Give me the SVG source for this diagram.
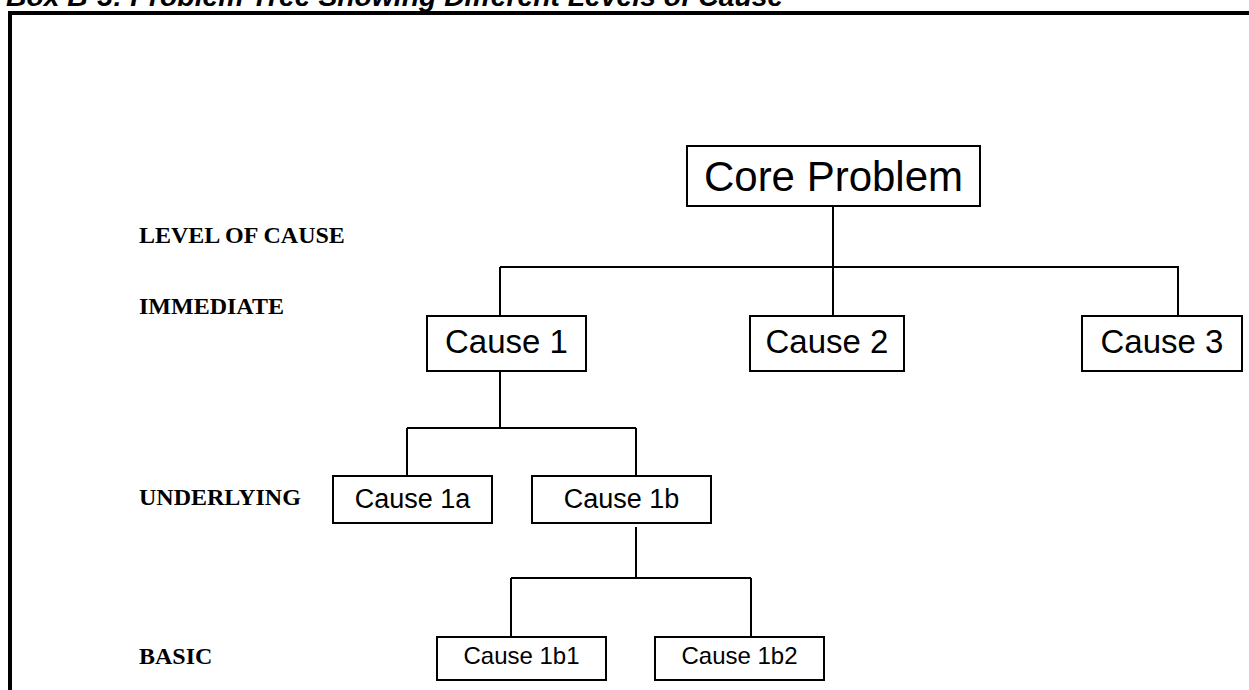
<svg xmlns="http://www.w3.org/2000/svg" width="1249" height="690" viewBox="0 0 1249 690">
<style>
.box{fill:#fff;stroke:#000;stroke-width:2}
.lbl{font-family:"Liberation Sans",Arial,sans-serif;fill:#000;text-anchor:middle}
.lev{font-family:"Liberation Serif","Times New Roman",serif;font-weight:bold;font-size:24px;fill:#000}
.con line{stroke:#000;stroke-width:2}
</style>
<rect width="1249" height="690" fill="#fff"/>
<text x="6" y="6" font-family="Liberation Sans,Arial,sans-serif" font-weight="bold" font-style="italic" font-size="28.3" fill="#000">Box B-3: Problem Tree Showing Different Levels of Cause</text>
<rect x="10" y="13" width="1300" height="800" fill="none" stroke="#000" stroke-width="4"/>
<g id="levels">
<text class="lev" x="139" y="243">LEVEL OF CAUSE</text>
<text class="lev" x="139" y="314">IMMEDIATE</text>
<text class="lev" x="139" y="505">UNDERLYING</text>
<text class="lev" x="139" y="664">BASIC</text>
</g>
<g id="connectors" class="con">
<line x1="833" y1="206" x2="833" y2="267"/>
<line x1="500" y1="267" x2="1179" y2="267"/>
<line x1="500" y1="267" x2="500" y2="316"/>
<line x1="833" y1="267" x2="833" y2="316"/>
<line x1="1178" y1="267" x2="1178" y2="316"/>
<line x1="500" y1="370" x2="500" y2="428"/>
<line x1="407" y1="428" x2="636" y2="428"/>
<line x1="407" y1="428" x2="407" y2="476"/>
<line x1="636" y1="428" x2="636" y2="476"/>
<line x1="636" y1="527" x2="636" y2="578"/>
<line x1="511" y1="578" x2="751" y2="578"/>
<line x1="511" y1="578" x2="511" y2="637"/>
<line x1="751" y1="578" x2="751" y2="637"/>
</g>
<g id="core"><rect class="box" x="687" y="146" width="293" height="60"/><text class="lbl" x="833.5" y="191" font-size="42">Core Problem</text></g>
<g id="cause1"><rect class="box" x="427" y="316" width="159" height="55"/><text class="lbl" x="506.5" y="353" font-size="33">Cause 1</text></g>
<g id="cause2"><rect class="box" x="750" y="316" width="154" height="55"/><text class="lbl" x="827" y="353" font-size="33">Cause 2</text></g>
<g id="cause3"><rect class="box" x="1082" y="316" width="160" height="55"/><text class="lbl" x="1162" y="353" font-size="33">Cause 3</text></g>
<g id="cause1a"><rect class="box" x="333" y="476" width="159" height="47"/><text class="lbl" x="412.5" y="508" font-size="27">Cause 1a</text></g>
<g id="cause1b"><rect class="box" x="532" y="476" width="179" height="47"/><text class="lbl" x="621.5" y="508" font-size="27">Cause 1b</text></g>
<g id="cause1b1"><rect class="box" x="437" y="637" width="169" height="43"/><text class="lbl" x="521.5" y="664" font-size="24">Cause 1b1</text></g>
<g id="cause1b2"><rect class="box" x="655" y="637" width="169" height="43"/><text class="lbl" x="739.5" y="664" font-size="24">Cause 1b2</text></g>
</svg>
